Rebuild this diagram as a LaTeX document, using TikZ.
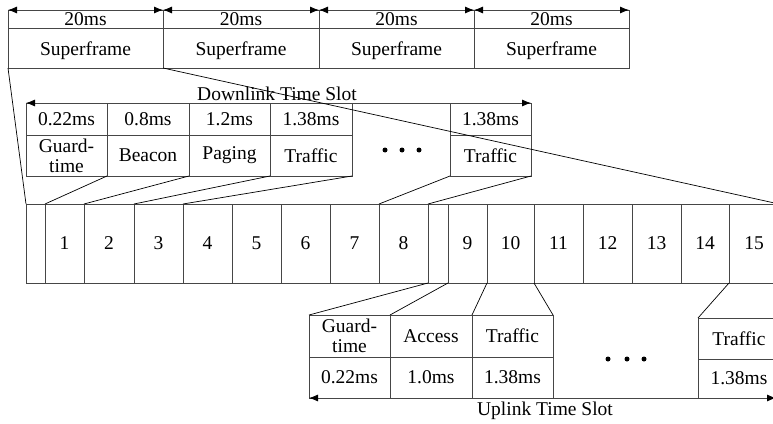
\documentclass[tikz,border=0pt]{standalone}
\usepackage{fontspec}
\setmainfont{Liberation Serif}
\usetikzlibrary{arrows.meta}
\definecolor{rule}{RGB}{70,70,70}

\begin{document}
\begin{tikzpicture}[
  x=1pt, y=-1pt,
  font=\fontsize{19.5}{20}\selectfont,
  cell/.style={draw=rule, line width=0.8pt, inner sep=0pt, outer sep=0pt,
               anchor=north west, align=center},
  link/.style={draw=black, line width=0.7pt},
  span/.style={{Latex[length=9pt,width=7pt,black]}-{Latex[length=9pt,width=7pt,black]},
               draw=rule, line width=0.8pt},
]
\useasboundingbox (0,0) rectangle (773,423);

% superframes
\foreach \i/\xa/\xb in {1/8/163,2/163/319,3/319/474,4/474/629} {
  \node[cell, minimum width=\xb pt-\xa pt, minimum height=18pt] (t\i) at (\xa,10) {20ms};
  \node[cell, minimum width=\xb pt-\xa pt, minimum height=40pt,
        text height=15.3pt, text depth=0pt] (sf\i) at (\xa,28) {Superframe};
  \draw[span] (t\i.north west) -- (t\i.north east);
}

% downlink slot
\foreach \i/\xa/\xb/\ms/\nm in {1/26/107/0.22ms/{Guard-\\time},2/107/189/0.8ms/Beacon,
    3/189/270/1.2ms/Paging,4/270/352/1.38ms/Traffic,5/450/531/1.38ms/Traffic} {
  \node[cell, minimum width=\xb pt-\xa pt, minimum height=32pt] (dt\i) at (\xa,103) {\ms};
  \node[cell, minimum width=\xb pt-\xa pt, minimum height=41pt] (dn\i) at (\xa,135) {\nm};
}
\draw[span] (dt1.north west) -- (dt5.north east);
\node (dlab) at (277,94) {Downlink Time Slot};
\foreach \x in {385,402,419} \fill (\x,150) circle (2.5pt);

% superframe slots
\foreach \n/\xa/\xb/\t in {0/26/45/{},1/45/84/1,2/84/134/2,3/134/183/3,4/183/232/4,
    5/232/281/5,6/281/330/6,7/330/379/7,8/379/428/8,g/428/448/{},9/448/487/9,
    10/487/534/10,11/534/583/11,12/583/632/12,13/632/681/13,14/681/729/14,15/729/779/15}
  \node[cell, minimum width=\xb pt-\xa pt, minimum height=79pt] (m\n) at (\xa,204) {\t};

% uplink slot
\foreach \i/\xa/\xb/\nm/\ms in {1/309/390/{Guard-\\time}/0.22ms,2/390/472/Access/1.0ms,
    3/472/553/Traffic/1.38ms} {
  \node[cell, minimum width=\xb pt-\xa pt, minimum height=42pt] (un\i) at (\xa,315) {\nm};
  \node[cell, minimum width=\xb pt-\xa pt, minimum height=41pt] (ut\i) at (\xa,357) {\ms};
}
\node[cell, minimum width=82pt, minimum height=41pt] (un4) at (698,318) {Traffic};
\node[cell, minimum width=82pt, minimum height=39pt] (ut4) at (698,359) {1.38ms};
\coordinate (uend) at (776,398);
\draw[span] (ut1.south west) -- (uend);
\node (ulab) at (545,411) {Uplink Time Slot};
\foreach \x in {608,627,644} \fill (\x,359) circle (2.5pt);

\draw[link] (sf1.south west) -- (m0.north west);
\draw[link] (sf1.south east) -- (m15.north east);
\draw[link] (dn1.south east) -- (m1.north west);
\draw[link] (dn2.south east) -- (m2.north west);
\draw[link] (dn3.south east) -- (m3.north west);
\draw[link] (dn4.south east) -- (m4.north west);
\draw[link] (dn5.south west) -- (m8.north west);
\draw[link] (dn5.south east) -- (m8.north east);
\draw[link] (un1.north west) -- (m8.south east);
\draw[link] (un1.north east) -- (mg.south east);
\draw[link] (un2.north east) -- (m9.south east);
\draw[link] (un3.north east) -- (m10.south east);
\draw[link] (un4.north west) -- (m14.south east);

\end{tikzpicture}
\end{document}
